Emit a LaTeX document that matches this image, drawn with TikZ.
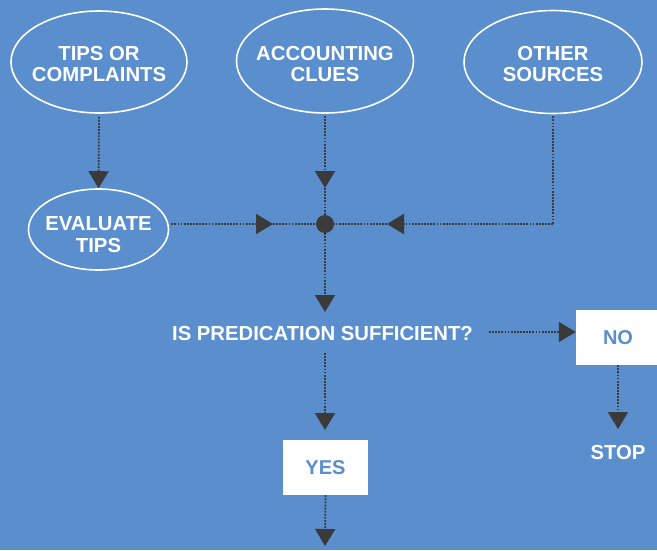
\documentclass[tikz,border=0pt]{standalone}
\usepackage{fontspec}
\setmainfont{Liberation Sans}
\usetikzlibrary{arrows.meta,shapes.geometric}
\definecolor{bg}{HTML}{5A8ECC}
\definecolor{ink}{HTML}{3A3A3A}
\begin{document}
\begin{tikzpicture}[x=1pt,y=-1pt,
  lbl/.style={font=\fontsize{20.3}{21}\selectfont\bfseries, text=white, align=center},
  oval/.style={ellipse, draw=white, line width=1.6pt, inner sep=0pt},
  wbox/.style={fill=white, font=\fontsize{20}{21}\selectfont\bfseries, text=bg, inner sep=0pt},
  dotline/.style={draw=ink, line width=1.8pt, dash pattern=on 1.8pt off 1.3pt},
  tipline/.style={dotline, -{Triangle[length=17pt,width=20pt]}}
]
\useasboundingbox[fill=bg] (0,0) rectangle (657,550);

\node[oval, minimum width=176pt, minimum height=102pt,
  label={[lbl, yshift=-2.2pt]center:TIPS OR\\COMPLAINTS}] (tips) at (99,62) {};
\node[oval, minimum width=177pt, minimum height=104pt,
  label={[lbl, yshift=-2.7pt]center:ACCOUNTING\\CLUES}] (acc) at (325,61) {};
\node[oval, minimum width=178pt, minimum height=103pt,
  label={[lbl, yshift=-2.2pt]center:OTHER\\SOURCES}] (oth) at (553,62) {};
\node[oval, minimum width=140pt, minimum height=81pt,
  label={[lbl, yshift=-5pt, align=center, font=\fontsize{20.3}{22}\selectfont\bfseries]center:EVALUATE\\TIPS}] (eval) at (98.5,229.5) {};
\node[circle, fill=ink, minimum size=18pt, inner sep=0pt] (hub) at (325,224) {};

\coordinate (tA) at (325,188);
\coordinate (tE) at (273,224);
\coordinate (corner) at (553,224);
\coordinate (tO) at (387,224);
\coordinate (tQ) at (325,312);

\node[lbl, inner sep=0pt] (q) at (322.5,334) {IS PREDICATION SUFFICIENT?};
\node[wbox, minimum width=84pt, minimum height=55pt] (no) at (618,337.5) {NO};
\node[wbox, minimum width=84.5pt, minimum height=55pt] (yes) at (325.5,467.5) {YES};
\node[lbl, inner sep=0pt] (stop) at (618,453) {STOP};

\coordinate (qr) at (489,332);
\coordinate (qb) at (325,353);
\coordinate (tN) at (618,429);
\coordinate (tY) at (325,430);
\coordinate (tZ) at (325,546);

% connectors
\draw[tipline, shorten <=3pt] (tips.south) -- (eval.north);
\draw[tipline, shorten <=2pt] (acc.south) -- (tA);
\draw[dotline] (tA) -- (hub);
\draw[tipline, shorten <=2pt] (eval.east |- tE) -- (tE);
\draw[dotline] (tE) -- (hub);
\draw[dotline, shorten <=2pt] (oth.south) -- (corner);
\draw[tipline] (corner) -- (tO);
\draw[dotline] (tO) -- (hub);
\draw[tipline] (hub) -- (tQ);
\draw[tipline] (qr) -- (no.west |- qr);
\draw[tipline] (qb) -- (tY);
\draw[tipline] (no.south) -- (tN);
\draw[tipline] (yes.south) -- (tZ);
\end{tikzpicture}
\end{document}
